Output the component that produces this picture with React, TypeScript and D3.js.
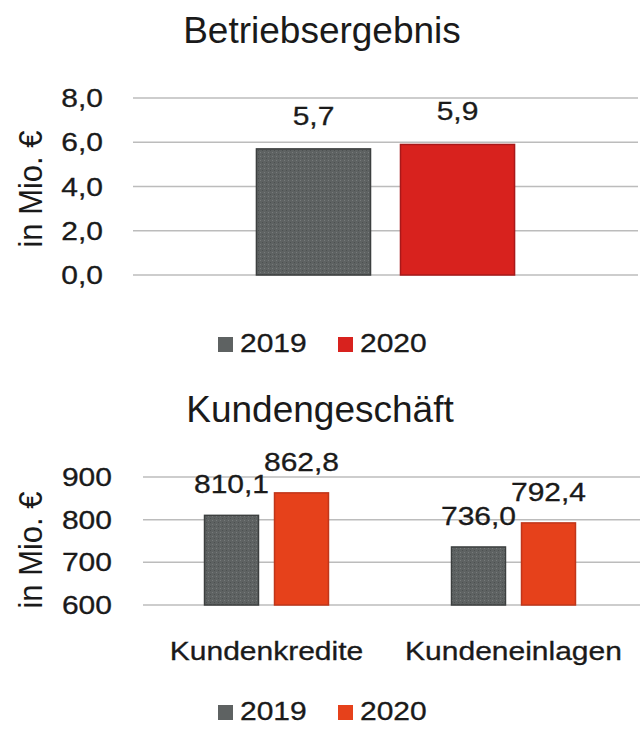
import React from "react";
import * as d3 from "d3";

// ---- data ----
const years = ["2019", "2020"];
const topCategories = ["Betriebsergebnis"];
const top2019 = [5.7];
const top2020 = [5.9];
const topTicks = [0, 2, 4, 6, 8];
const topTickLabels = ["0,0", "2,0", "4,0", "6,0", "8,0"];

const bottomCategories = ["Kundenkredite", "Kundeneinlagen"];
const bottom2019 = [810.1, 736.0];
const bottom2020 = [862.8, 792.4];
const bottomTicks = [600, 700, 800, 900];
const bottomTickLabels = ["600", "700", "800", "900"];

const topTitle = "Betriebsergebnis";
const bottomTitle = "Kundengeschäft";
const yTitle = "in Mio. €";

const FONT = "'Liberation Sans', Arial, sans-serif";
const TXT = "#1a1a1a";
const GRID = "#bcbcbc";
const SX = 1.2;

const fmt = (v: number) => d3.format(".1f")(v).replace(".", ",");

function T({ x, y, size = 25, anchor = "middle", sx = SX, children }: any) {
  return (
    <text
      transform={`translate(${x},${y}) scale(${sx},1)`}
      textAnchor={anchor}
      fontSize={size}
      fontFamily={FONT}
      fill={TXT}
      stroke={TXT}
      strokeWidth={0.3}
    >
      {children}
    </text>
  );
}

function Legend({ y, colors }: { y: number; colors: string[] }) {
  const lx = d3.scalePoint<string>().domain(years).range([218, 338]);
  return (
    <g>
      {years.map((yr, i) => (
        <g key={yr}>
          <rect x={lx(yr)!} y={y - 15} width={15} height={15} fill={colors[i]} />
          <T x={lx(yr)! + 22} y={y} anchor="start">
            {yr}
          </T>
        </g>
      ))}
    </g>
  );
}

export default function App() {
  // top chart scales
  const yTop = d3.scaleLinear().domain([0, 8]).range([275, 98]);
  const x0Top = d3.scaleBand<string>().domain(topCategories).range([133, 638]);
  const x1Top = d3
    .scaleBand<string>()
    .domain(years)
    .range([0, x0Top.bandwidth()])
    .paddingInner(0.208)
    .paddingOuter(0.857);
  const topSeries = [top2019, top2020];

  // bottom chart scales
  const yBot = d3.scaleLinear().domain([600, 900]).range([605, 477]);
  const x0Bot = d3.scaleBand<string>().domain(bottomCategories).range([143, 637]);
  const x1Bot = d3
    .scaleBand<string>()
    .domain(years)
    .range([0, x0Bot.bandwidth()])
    .paddingInner(0.229)
    .paddingOuter(0.879);
  const botSeries = [bottom2019, bottom2020];

  const topFill = ["url(#grayPat)", "#d8221e"];
  const topStroke = ["#3c3f3f", "#a8191a"];
  const botFill = ["url(#grayPat)", "#e6411b"];
  const botStroke = ["#3c3f3f", "#c0361a"];

  return (
    <svg
      width={641}
      height={732}
      style={{ position: "absolute", left: 0, top: 0, background: "#fff" }}
    >
      <defs>
        <pattern id="grayPat" width="4" height="4" patternUnits="userSpaceOnUse">
          <rect width="4" height="4" fill="#5e6262" />
          <rect x="0" y="0" width="1" height="1" fill="#777b7b" />
          <rect x="2" y="2" width="1" height="1" fill="#4c5050" />
        </pattern>
      </defs>

      {/* ---------- top chart ---------- */}
      <text x={322} y={43} textAnchor="middle" fontSize={37} fontFamily={FONT} fill={TXT}>
        {topTitle}
      </text>
      {topTicks.map((t, i) => (
        <g key={t}>
          <line x1={133} x2={638} y1={yTop(t)} y2={yTop(t)} stroke={GRID} strokeWidth={1.5} />
          <T x={103} y={yTop(t) + 9} anchor="end">
            {topTickLabels[i]}
          </T>
        </g>
      ))}
      <text
        transform={`translate(42,189) rotate(-90) scale(1,1.08)`}
        textAnchor="middle"
        fontSize={31}
        fontFamily={FONT}
        fill={TXT}
      >
        {yTitle}
      </text>
      {topCategories.map((c, ci) =>
        years.map((yr, si) => {
          const v = topSeries[si][ci];
          const x = x0Top(c)! + x1Top(yr)!;
          const w = x1Top.bandwidth();
          return (
            <g key={c + yr}>
              <rect
                x={x}
                y={yTop(v)}
                width={w}
                height={yTop(0) - yTop(v)}
                fill={topFill[si]}
                stroke={topStroke[si]}
                strokeWidth={1.5}
              />
              <T x={x + w / 2} y={yTop(v) - 24}>
                {fmt(v)}
              </T>
            </g>
          );
        })
      )}
      <Legend y={352} colors={["#5e6262", "#d8221e"]} />

      {/* ---------- bottom chart ---------- */}
      <text x={320} y={422} textAnchor="middle" fontSize={37} fontFamily={FONT} fill={TXT}>
        {bottomTitle}
      </text>
      {bottomTicks.map((t, i) => (
        <g key={t}>
          <line x1={143} x2={640} y1={yBot(t)} y2={yBot(t)} stroke={GRID} strokeWidth={1.5} />
          <T x={112} y={yBot(t) + 9} anchor="end">
            {bottomTickLabels[i]}
          </T>
        </g>
      ))}
      <text
        transform={`translate(42,550) rotate(-90) scale(1,1.08)`}
        textAnchor="middle"
        fontSize={31}
        fontFamily={FONT}
        fill={TXT}
      >
        {yTitle}
      </text>
      {bottomCategories.map((c, ci) =>
        years.map((yr, si) => {
          const v = botSeries[si][ci];
          const x = x0Bot(c)! + x1Bot(yr)!;
          const w = x1Bot.bandwidth();
          return (
            <g key={c + yr}>
              <rect
                x={x}
                y={yBot(v)}
                width={w}
                height={yBot(600) - yBot(v)}
                fill={botFill[si]}
                stroke={botStroke[si]}
                strokeWidth={1.5}
              />
              <T x={x + w / 2} y={yBot(v) - 22}>
                {fmt(v)}
              </T>
            </g>
          );
        })
      )}
      {bottomCategories.map((c) => (
        <T key={c} x={x0Bot(c)! + x0Bot.bandwidth() / 2} y={660}>
          {c}
        </T>
      ))}
      <Legend y={720} colors={["#5e6262", "#e6411b"]} />
    </svg>
  );
}
